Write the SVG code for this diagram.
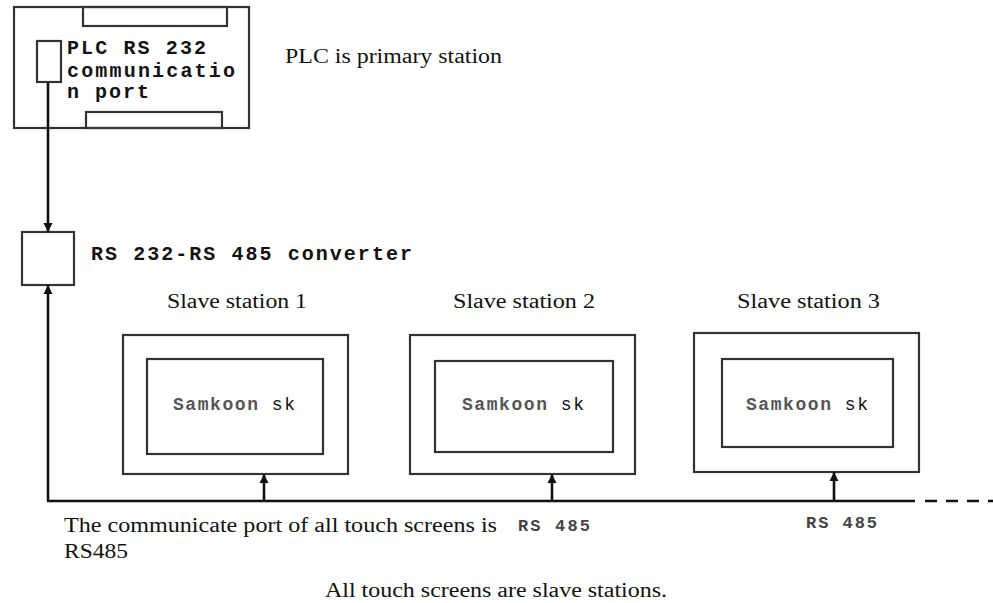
<svg xmlns="http://www.w3.org/2000/svg" width="993" height="603" viewBox="0 0 993 603">
<defs>
<marker id="arr" viewBox="0 0 10 10" refX="10" refY="5" markerWidth="3.5" markerHeight="3.5" orient="auto" markerUnits="strokeWidth">
<path d="M0,0 L10,5 L0,10 z" fill="#111"/>
</marker>
</defs>
<style>
.box{fill:none;stroke:#333;stroke-width:2.2}
.line{fill:none;stroke:#111;stroke-width:2.6}
.mono{font-family:"Liberation Mono","DejaVu Sans Mono",monospace;font-weight:bold;font-size:20px;fill:#111}
.serif{font-family:"Liberation Serif","DejaVu Serif",serif;font-size:20px;fill:#111}
.sam{font-family:"Liberation Mono","DejaVu Sans Mono",monospace;font-size:18px}
.rs{font-family:"Liberation Mono","DejaVu Sans Mono",monospace;font-size:17px;fill:#444;font-weight:bold}
</style>
<rect width="993" height="603" fill="#fff"/>
<g id="plc">
<rect class="box" x="14" y="7" width="235" height="121"/>
<rect class="box" x="83" y="7" width="144" height="19"/>
<rect class="box" x="86" y="112" width="136" height="16"/>
<rect class="box" x="37" y="41" width="24" height="41"/>
<text class="mono" x="67" y="54" textLength="139" lengthAdjust="spacing">PLC RS 232</text>
<text class="mono" x="67" y="77" textLength="168" lengthAdjust="spacing">communicatio</text>
<text class="mono" x="67" y="98" textLength="82" lengthAdjust="spacing">n port</text>
<text class="serif" x="285" y="63" textLength="217" lengthAdjust="spacingAndGlyphs">PLC is primary station</text>
</g>
<g id="converter">
<rect class="box" x="22" y="232" width="52" height="53"/>
<text class="mono" x="91" y="260" textLength="321" lengthAdjust="spacing">RS 232-RS 485 converter</text>
</g>
<g id="slave1">
<text class="serif" x="167" y="308" textLength="140" lengthAdjust="spacingAndGlyphs">Slave station 1</text>
<rect class="box" x="123" y="335" width="225" height="139"/>
<rect class="box" x="147" y="359" width="176" height="95"/>
<text class="sam" x="173" y="410" textLength="122" lengthAdjust="spacing"><tspan fill="#555" font-weight="bold">Samkoon</tspan> <tspan fill="#111">sk</tspan></text>
</g>
<g id="slave2">
<text class="serif" x="453" y="308" textLength="142" lengthAdjust="spacingAndGlyphs">Slave station 2</text>
<rect class="box" x="410" y="335" width="225" height="139"/>
<rect class="box" x="435" y="361" width="178" height="91"/>
<text class="sam" x="462" y="410" textLength="122" lengthAdjust="spacing"><tspan fill="#555" font-weight="bold">Samkoon</tspan> <tspan fill="#111">sk</tspan></text>
</g>
<g id="slave3">
<text class="serif" x="737" y="308" textLength="143" lengthAdjust="spacingAndGlyphs">Slave station 3</text>
<rect class="box" x="694" y="333" width="225" height="139"/>
<rect class="box" x="722" y="359" width="171" height="88"/>
<text class="sam" x="746" y="410" textLength="122" lengthAdjust="spacing"><tspan fill="#555" font-weight="bold">Samkoon</tspan> <tspan fill="#111">sk</tspan></text>
</g>
<g id="connectors">
<line class="line" x1="48" y1="82" x2="48" y2="232" marker-end="url(#arr)"/>
<line class="line" x1="48" y1="501" x2="48" y2="285" marker-end="url(#arr)"/>
<line class="line" x1="47" y1="501" x2="915" y2="501"/>
<line class="line" x1="925" y1="501" x2="993" y2="501" stroke-dasharray="12 9"/>
<line class="line" x1="264" y1="501" x2="264" y2="474" marker-end="url(#arr)"/>
<line class="line" x1="552" y1="501" x2="552" y2="474" marker-end="url(#arr)"/>
<line class="line" x1="834" y1="501" x2="834" y2="472" marker-end="url(#arr)"/>
</g>
<g id="labels">
<text class="serif" x="64" y="532" textLength="433" lengthAdjust="spacingAndGlyphs">The communicate port of all touch screens is</text>
<text class="serif" x="64" y="558" textLength="64" lengthAdjust="spacingAndGlyphs">RS485</text>
<text class="rs" x="518" y="531" textLength="72" lengthAdjust="spacing">RS 485</text>
<text class="rs" x="806" y="528" textLength="71" lengthAdjust="spacing">RS 485</text>
<text class="serif" x="325" y="597" textLength="342" lengthAdjust="spacingAndGlyphs">All touch screens are slave stations.</text>
</g>
</svg>
